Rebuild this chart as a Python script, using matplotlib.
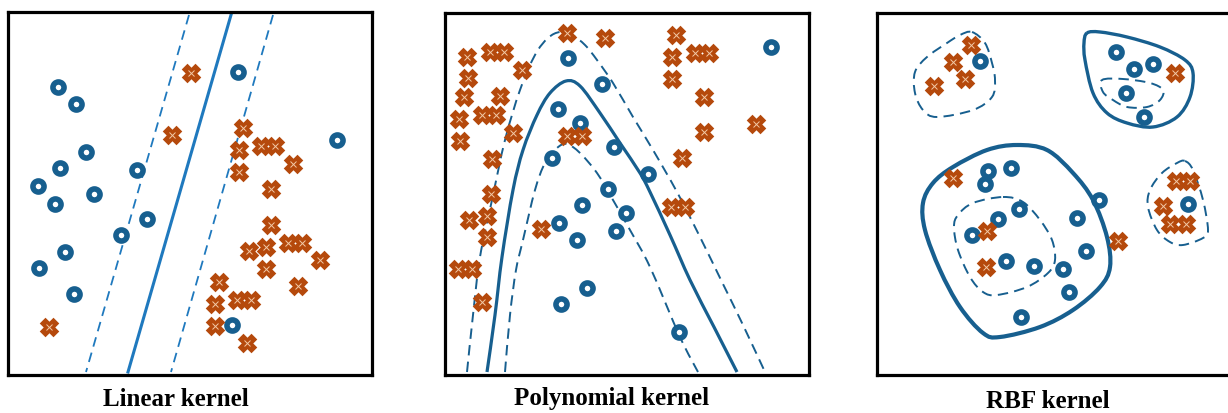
import numpy as np
import matplotlib
matplotlib.use("Agg")
import matplotlib.pyplot as plt
from matplotlib.path import Path
from matplotlib.patches import PathPatch

plt.rcParams['lines.scale_dashes'] = False

W, H = 1228, 413
BLUE = '#175f8f'
LBLUE = '#1f79be'
ORANGE = '#b5490c'
XLIGHT = '#f2c9a6'

# ---- panel boxes (left, top, right, bottom) in picture pixels
box_lin = (8, 12, 372, 375)
box_poly = (445, 13, 809, 375)
box_rbf = (877, 13, 1241, 375)

# ---- linear kernel data
lin_blue_x = [58, 76, 86, 60, 38, 55, 94, 137, 147, 121, 65, 39, 74, 238, 337, 232]
lin_blue_y = [87, 104, 152, 168, 186, 204, 194, 170, 219, 235, 252, 268, 294, 72, 140, 325]
lin_orange_x = [191, 172, 243, 239, 239, 261, 275, 293, 271, 271, 266, 249, 288, 302,
                320, 266, 219, 298, 237, 251, 215, 215, 247, 49]
lin_orange_y = [73, 135, 128, 150, 172, 146, 146, 164, 189, 225, 247, 251, 243, 243,
                260, 269, 282, 286, 300, 300, 304, 326, 343, 327]
# boundary lines: x at top edge and bottom edge
lin_top_y, lin_bot_y = 15, 372
lin_solid_x = [231, 128]
lin_dash_left_x = [189, 86]
lin_dash_right_x = [273, 171]

# ---- polynomial kernel data
poly_blue_x = [568, 602, 558, 580, 614, 552, 648, 608, 582, 626, 559, 616, 577, 587, 561, 679, 771]
poly_blue_y = [58, 84, 109, 123, 147, 158, 174, 189, 205, 213, 223, 231, 240, 288, 304, 332, 47]
poly_orange_x = [567, 605, 676, 467, 490, 504, 522, 672, 695, 709, 468, 672, 464, 500,
                 704, 459, 482, 496, 460, 513, 567, 582, 704, 756, 492, 682, 491, 671,
                 685, 469, 487, 487, 541, 458, 472, 482]
poly_orange_y = [33, 38, 35, 57, 52, 52, 70, 57, 53, 53, 78, 79, 97, 96,
                 97, 119, 115, 115, 141, 133, 136, 136, 132, 124, 159, 158, 194, 207,
                 207, 220, 216, 237, 229, 269, 269, 302]
poly_solid_x = [487, 495, 502, 513, 523, 537, 550, 566, 580, 600, 620, 640, 650, 670, 690, 714, 737]
poly_solid_y = [372, 315, 257, 190, 150, 115, 93, 81, 86, 113, 143, 173, 192, 235, 280, 327, 372]
poly_outer_x = [467, 473, 480, 492, 505, 520, 535, 548, 560, 572, 585, 597, 613, 633, 653, 677,
                700, 722, 743, 765]
poly_outer_y = [372, 315, 257, 200, 140, 90, 55, 38, 32, 35, 45, 60, 83, 117, 150, 192,
                237, 282, 325, 372]
poly_inner_x = [505, 510, 516, 523, 535, 545, 557, 567, 580, 597, 613, 630, 650, 680, 698]
poly_inner_y = [372, 315, 270, 240, 190, 163, 148, 144, 153, 173, 200, 230, 267, 337, 372]

# ---- RBF kernel data
rbf_blue_x = [980, 1116, 1134, 1153, 1126, 1144, 988, 1011, 985, 1099, 1019, 998, 1077,
              972, 1188, 1086, 1006, 1034, 1063, 1069, 1021]
rbf_blue_y = [61, 52, 69, 64, 93, 117, 171, 168, 184, 200, 209, 219, 218,
              235, 204, 251, 261, 266, 269, 292, 317]
rbf_orange_x = [971, 953, 965, 934, 1175, 953, 987, 986, 1118, 1176, 1190, 1163, 1170, 1186]
rbf_orange_y = [45, 62, 79, 86, 73, 178, 231, 267, 241, 181, 181, 206, 224, 224]

# closed contours (solid / dashed)
rbf_tl_x = [972, 985, 992, 995, 992, 973, 937, 923, 915, 915, 927, 947, 960]
rbf_tl_y = [32, 43, 63, 80, 97, 110, 117, 110, 93, 72, 57, 43, 35]
rbf_tr_x = [1087, 1100, 1127, 1160, 1185, 1193, 1190, 1177, 1153, 1127, 1107, 1093, 1085, 1084]
rbf_tr_y = [33, 32, 37, 47, 60, 73, 97, 117, 127, 123, 113, 93, 60, 43]
rbf_tr_in_x = [1102, 1123, 1150, 1163, 1160, 1147, 1127, 1113, 1103]
rbf_tr_in_y = [80, 79, 83, 90, 100, 107, 107, 100, 92]
rbf_big_x = [1017, 1047, 1073, 1093, 1107, 1110, 1100, 1073, 1040, 1000, 983, 960, 940, 925,
             923, 933, 953, 987]
rbf_big_y = [145, 150, 173, 200, 237, 267, 287, 310, 327, 337, 333, 307, 270, 230,
             203, 183, 167, 150]
rbf_big_in_x = [1003, 1023, 1040, 1052, 1055, 1048, 1027, 997, 983, 970, 958, 954, 958, 973]
rbf_big_in_y = [197, 202, 220, 240, 260, 273, 287, 295, 292, 277, 250, 227, 215, 203]
rbf_r_x = [1185, 1193, 1203, 1208, 1203, 1183, 1170, 1157, 1148, 1150, 1162, 1177]
rbf_r_y = [161, 170, 200, 230, 238, 245, 242, 230, 207, 190, 173, 163]

titles = ['Linear kernel', 'Polynomial kernel', 'RBF kernel']
title_xy = [(176, 399), (612, 399), (1048, 402)]


def smooth_path(xs, ys, closed=False):
    # Catmull-Rom through the read points, handed to matplotlib as cubic Beziers
    p = np.column_stack([xs, ys]).astype(float)
    n = len(p)
    if closed:
        pts = np.vstack([p[-1], p, p[0], p[1]])
        segs = n
    else:
        pts = np.vstack([p[0], p, p[-1]])
        segs = n - 1
    verts = [pts[1]]
    codes = [Path.MOVETO]
    for i in range(1, segs + 1):
        p0, p1, p2, p3 = pts[i - 1], pts[i], pts[i + 1], pts[i + 2]
        verts += [p1 + (p2 - p0) / 6, p2 - (p3 - p1) / 6, p2]
        codes += [Path.CURVE4] * 3
    return Path(verts, codes)


def add_curve(ax, xs, ys, color, lw, dashed=False, closed=False):
    patch = PathPatch(smooth_path(xs, ys, closed), fill=False, edgecolor=color,
                      linewidth=lw, capstyle='butt')
    if dashed:
        patch.set_linestyle((0, (7.5, 4.5)))
    ax.add_patch(patch)


def make_axes(fig, box, hide_right=False):
    x0, y0, x1, y1 = box
    ax = fig.add_axes([x0 / W, (H - y1) / H, (x1 - x0) / W, (y1 - y0) / H])
    ax.set_xlim(x0, x1)
    ax.set_ylim(y1, y0)
    ax.set_xticks([])
    ax.set_yticks([])
    for s in ax.spines.values():
        s.set_linewidth(2.3)
        s.set_color('black')
    if hide_right:
        ax.spines['right'].set_visible(False)
    return ax


def draw_points(ax, bx, by, ox, oy):
    ax.plot(bx, by, 'o', ms=8.0, mfc='white', mec=BLUE, mew=4.0, ls='none', zorder=5)
    ax.plot(ox, oy, 'X', ms=11.5, color=ORANGE, mec=ORANGE, mew=1.8, ls='none', zorder=5)
    ax.plot(ox, oy, 'x', ms=5, color=XLIGHT, mew=0.7, ls='none', zorder=6)


fig = plt.figure(figsize=(W / 100, H / 100), dpi=100)

# linear
ax1 = make_axes(fig, box_lin)
ax1.plot(lin_solid_x, [lin_top_y, lin_bot_y], color=LBLUE, lw=2.2)
for xs in (lin_dash_left_x, lin_dash_right_x):
    ax1.plot(xs, [lin_top_y, lin_bot_y], color=LBLUE, lw=1.3, dashes=(7, 4.5))
draw_points(ax1, lin_blue_x, lin_blue_y, lin_orange_x, lin_orange_y)

# polynomial
ax2 = make_axes(fig, box_poly)
add_curve(ax2, poly_solid_x, poly_solid_y, BLUE, 2.3)
add_curve(ax2, poly_outer_x, poly_outer_y, BLUE, 1.4, dashed=True)
add_curve(ax2, poly_inner_x, poly_inner_y, BLUE, 1.4, dashed=True)
draw_points(ax2, poly_blue_x, poly_blue_y, poly_orange_x, poly_orange_y)

# rbf
ax3 = make_axes(fig, box_rbf, hide_right=True)
add_curve(ax3, rbf_tr_x, rbf_tr_y, BLUE, 2.4, closed=True)
add_curve(ax3, rbf_big_x, rbf_big_y, BLUE, 3.0, closed=True)
for xs, ys in ((rbf_tl_x, rbf_tl_y), (rbf_tr_in_x, rbf_tr_in_y),
               (rbf_big_in_x, rbf_big_in_y), (rbf_r_x, rbf_r_y)):
    add_curve(ax3, xs, ys, BLUE, 1.4, dashed=True, closed=True)
draw_points(ax3, rbf_blue_x, rbf_blue_y, rbf_orange_x, rbf_orange_y)

for t, (tx, ty) in zip(titles, title_xy):
    fig.text(tx / W, 1 - ty / H, t, ha='center', va='center', fontsize=18,
             fontweight='bold', family='Liberation Serif')

fig.savefig('out.png', dpi=100)
